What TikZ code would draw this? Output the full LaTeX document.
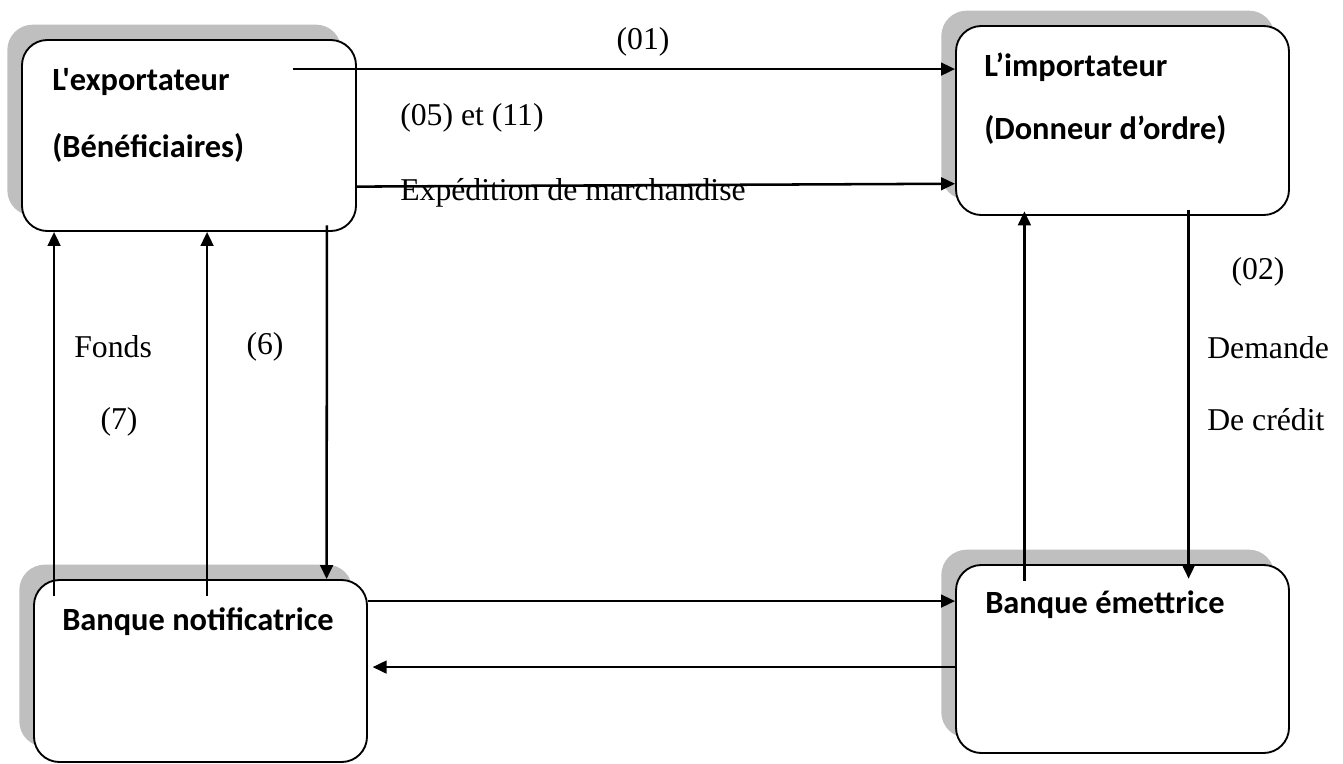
\documentclass[tikz,border=0pt]{standalone}
\usepackage{fontspec}
\setmainfont{Liberation Serif}
\newfontfamily\boxfont{Carlito}
\usetikzlibrary{arrows.meta,shadows}

\definecolor{shadowgray}{RGB}{191,191,191}

\tikzset{
  bank/.style={draw, line width=1.4pt, rounded corners=19pt, fill=white,
    general shadow={fill=shadowgray, shadow xshift=-11pt, shadow yshift=11.5pt}},
  title/.style={font=\boxfont\bfseries\fontsize{24.3}{28}\selectfont, anchor=west, inner sep=0pt},
  note/.style={font=\fontsize{23.8}{28}\selectfont, inner sep=0pt},
  flow/.style={line width=1.9pt, -{Triangle[length=10.5pt,width=9.5pt]}}
}

\begin{document}
\begin{tikzpicture}[x=0.75pt,y=-0.75pt]
\useasboundingbox (0,0) rectangle (1343,764);

% the four parties
\node[bank, minimum width=250.5pt, minimum height=143.25pt] (exp) at (189,135.5) {};
\node[bank, minimum width=249.75pt, minimum height=141.75pt] (imp) at (1122.5,120.5) {};
\node[bank, minimum width=249.75pt, minimum height=136.5pt] (notif) at (200.5,671) {};
\node[bank, minimum width=249.75pt, minimum height=141pt] (emet) at (1122.5,659) {};

\node[title] (expname) at (52,82) {L'exportateur};
\node[title] (expben) at (52,148) {(Bénéficiaires)};
\node[title] (impname) at (984,67) {L’importateur};
\node[title] (impdon) at (984,130) {(Donneur d’ordre)};
\node[title] (notifname) at (62,622) {Banque notificatrice};
\node[title] (emetname) at (985,605) {Banque émettrice};

% exportateur -> importateur
\draw[flow] ([xshift=-48pt,yshift=-22.5pt]exp.north east) -- ([yshift=-33pt]imp.north west);
\draw[flow] ([yshift=34pt]exp.south east) -- ([yshift=-119pt]imp.north west);

% banques <-> exportateur
\draw[flow] ([xshift=15.75pt,yshift=-12.75pt]notif.north west) -- ([xshift=24.75pt]exp.south west);
\draw[flow] ([xshift=130.5pt,yshift=-12.75pt]notif.north west) -- ([xshift=139.5pt]exp.south west);
\draw[flow] ([xshift=-22.5pt,yshift=5pt]exp.south east) -- ([xshift=-31pt]notif.north east);

% banques entre elles
\draw[flow] ([yshift=-16.5pt]notif.north east) -- ([yshift=-27.75pt]emet.north west);
\draw[flow] ([yshift=-77.25pt]emet.north west) -- ([xshift=3.5pt,yshift=-66pt]notif.north east);

% importateur <-> banque emettrice
\draw[flow] ([xshift=52pt,yshift=-12.75pt]emet.north west) -- ([xshift=52pt,yshift=3.5pt]imp.south west);
\draw[flow] ([xshift=-76pt,yshift=4.5pt]imp.south east) -- ([xshift=-76pt,yshift=-11pt]emet.north east);

% labels
\node[note] (l01) at (643,42) {(01)};
\node[note, anchor=west] (l05) at (400,118) {(05) et (11)};
\node[note, anchor=west] (lexp) at (400,193) {Expédition de marchandise};
\node[note] (l02) at (1258,272) {(02)};
\node[note, anchor=west] (ldem) at (1207,348) {Demande};
\node[note, anchor=west] (lcred) at (1207,420) {De crédit};
\node[note, anchor=west] (lfonds) at (74,347) {Fonds};
\node[note] (l6) at (265,347) {(6)};
\node[note] (l7) at (119,422) {(7)};
\end{tikzpicture}
\end{document}
